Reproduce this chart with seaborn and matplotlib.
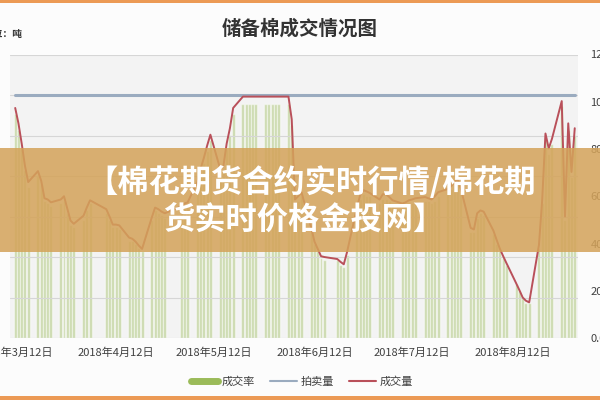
import numpy as np
import pandas as pd
import matplotlib
matplotlib.use("Agg")
import matplotlib.pyplot as plt
import seaborn as sns
from matplotlib.patches import Rectangle
from matplotlib.lines import Line2D

# ---------------- data ----------------
title = "储备棉成交情况图"
unit_label = "单位：吨"
banner_lines = ["【棉花期货合约实时行情/棉花期", "货实时价格金投网】"]
legend_labels = ["成交率", "拍卖量", "成交量"]

tick_dates = ["2018-03-12", "2018-04-12", "2018-05-12", "2018-06-12", "2018-07-12", "2018-08-12"]
tick_labels = ["2018年3月12日", "2018年4月12日", "2018年5月12日",
               "2018年6月12日", "2018年7月12日", "2018年8月12日"]
holidays = ["2018-04-05", "2018-04-06", "2018-04-30", "2018-05-01", "2018-06-18"]

# 成交量 (吨), one value per auction day
volume = [28400, 26500, 24000, 21250, 19250,
          20600, 19400, 17250, 17100, 16750,
          17100, 17500, 16000, 14500, 14100,
          15100, 16100, 17000,
          15900, 15000, 14000, 14000, 13900,
          12400, 12250, 11900, 11400, 11000,
          14900, 16100, 15900, 15600, 15400,
          16250, 16600, 16750,
          19250, 20900, 22250, 23750, 25100,
          20900, 21250, 24000, 25900, 28400,
          29800, 29800, 29800, 29800, 29800,
          29800, 29800, 29800, 29800, 29800,
          29800, 27000, 17100, 17500, 18000,
          13600, 11900, 11000, 10100, 10000,
          9750, 9400, 9100, 10600,
          16000, 17600, 18250, 18100, 17900,
          17100, 17750, 17750, 17400, 17000,
          16600, 16750, 17000, 17100, 17250,
          17400, 17250, 17100, 17500, 18000,
          18400, 18750, 19250, 19600, 18400,
          13600, 13400, 15400, 15750, 15600,
          13250, 12100, 11000, 10100, 9250,
          6750, 5900, 5000, 4600, 4400,
          11500, 17100, 25250, 23400, 24600,
          29250, 15000, 26500, 20500, 25900]

# 成交率 (%)
rate = [95, 88, 80, 71, 64,
        69, 65, 58, 57, 56,
        57, 58, 53, 48, 47,
        50, 54, 57,
        53, 50, 47, 47, 46,
        41, 41, 40, 38, 37,
        50, 54, 53, 52, 51,
        54, 55, 56,
        64, 70, 74, 79, 84,
        70, 71, 80, 86, 95,
        99, 99, 99, 99, 99,
        99, 99, 99, 99, 99,
        99, 90, 57, 58, 60,
        45, 40, 37, 34, 33,
        33, 31, 30, 35,
        53, 59, 61, 60, 60,
        57, 59, 59, 58, 57,
        55, 56, 57, 57, 58,
        58, 58, 57, 58, 60,
        61, 63, 64, 65, 61,
        45, 45, 51, 53, 52,
        44, 40, 37, 34, 31,
        23, 20, 17, 15, 15,
        38, 57, 84, 78, 82,
        98, 50, 88, 68, 86]

# 拍卖量 (吨)
auction = [30000] * len(volume)

# ---------------- frame ----------------
start = pd.Timestamp("2018-03-12")
dates = pd.bdate_range("2018-03-12", "2018-08-31").drop(pd.to_datetime(holidays))
day = (dates - start).days
tick_days = [(pd.Timestamp(d) - start).days for d in tick_dates]

df = pd.DataFrame({"day": day, "rate": rate, "volume": volume, "auction": auction})

sns.set_style("white")
plt.rcParams["font.family"] = ["Noto Sans CJK SC", "DejaVu Sans"]
plt.rcParams["axes.unicode_minus"] = False

W, H = 600, 400
fig = plt.figure(figsize=(6, 4), dpi=100, facecolor="#fcfcfc")
ax = fig.add_axes([10 / W, 62 / H, 568 / W, 283.5 / H])
ax.set_facecolor("#f3f3f3")

green = "#9bbb59"
blue = "#9aabbf"
red = "#b9505a"

sns.barplot(data=df, x="day", y="rate", native_scale=True, color=green,
            saturation=1, alpha=0.45, width=0.92, ax=ax, errorbar=None)

ax2 = ax.twinx()
sns.lineplot(data=df, x="day", y="auction", ax=ax2, color=blue, lw=2.2)
sns.lineplot(data=df, x="day", y="volume", ax=ax2, color=red, lw=1.4)

# right axis: rate
ax.yaxis.tick_right()
ax.set_ylim(0, 120)
yt = [0, 20, 40, 60, 80, 100, 120]
ax.set_yticks(yt)
ax.set_yticklabels([f"{v:.1f}%" for v in yt])
ax.tick_params(axis="y", right=True, labelright=True, left=False, labelleft=False,
               length=0, pad=9, labelsize=8, labelcolor="#404040")

# left axis: tonnes (labels cropped off in reference)
ax2.yaxis.tick_left()
ax2.set_ylim(0, 35000)
ax2.set_yticks(range(0, 35001, 5000))
ax2.tick_params(axis="y", left=False, labelleft=False, right=False, labelright=False, length=0)
ax2.grid(True, axis="y", color="#d6d6d6", lw=0.8)
ax2.set_axisbelow(True)

ax.set_xlim(-1.6, 173.0)
ax.set_xticks(tick_days)
ax.set_xticklabels(tick_labels)
ax.tick_params(axis="x", length=0, pad=7, labelsize=8, labelcolor="#404040")

for a in (ax, ax2):
    a.set_xlabel("")
    a.set_ylabel("")
    for s in a.spines.values():
        s.set_visible(False)

# texts
fig.text(300 / W, 1 - 29 / H, title, ha="center", va="center", fontsize=14,
         fontweight="bold", color="#333333")
fig.text(22 / W, 1 - 34 / H, unit_label, ha="right", va="center", fontsize=7,
         fontweight="bold", color="#333333")

handles = [Line2D([], [], color=green, lw=5),
           Line2D([], [], color=blue, lw=1.5),
           Line2D([], [], color=red, lw=1.5)]
fig.legend(handles, legend_labels, loc="center", bbox_to_anchor=(302 / W, 1 - 382 / H),
           ncol=3, frameon=False, fontsize=8, handlelength=2.4, columnspacing=1.4,
           handletextpad=0.3, labelcolor="#404040")

# banner overlay
fig.add_artist(Rectangle((0, 1 - 252 / H), 1, 104 / H, transform=fig.transFigure,
                         facecolor="#d4a35a", alpha=0.86, edgecolor="none", zorder=10))
fig.text(311 / W, 1 - 183 / H, banner_lines[0], ha="center", va="center", fontsize=22.5,
         fontweight="bold", color="white", zorder=11)
fig.text(304 / W, 1 - 220 / H, banner_lines[1], ha="center", va="center", fontsize=22.5,
         fontweight="bold", color="white", zorder=11)

# orange frame strips
fig.add_artist(Rectangle((0, 1 - 3 / H), 1, 3 / H, transform=fig.transFigure,
                         facecolor="#ec9a55", edgecolor="none", zorder=12))
fig.add_artist(Rectangle((0, 0), 1, 4 / H, transform=fig.transFigure,
                         facecolor="#ec9a55", edgecolor="none", zorder=12))

fig.savefig("out.png", dpi=100, facecolor=fig.get_facecolor())
